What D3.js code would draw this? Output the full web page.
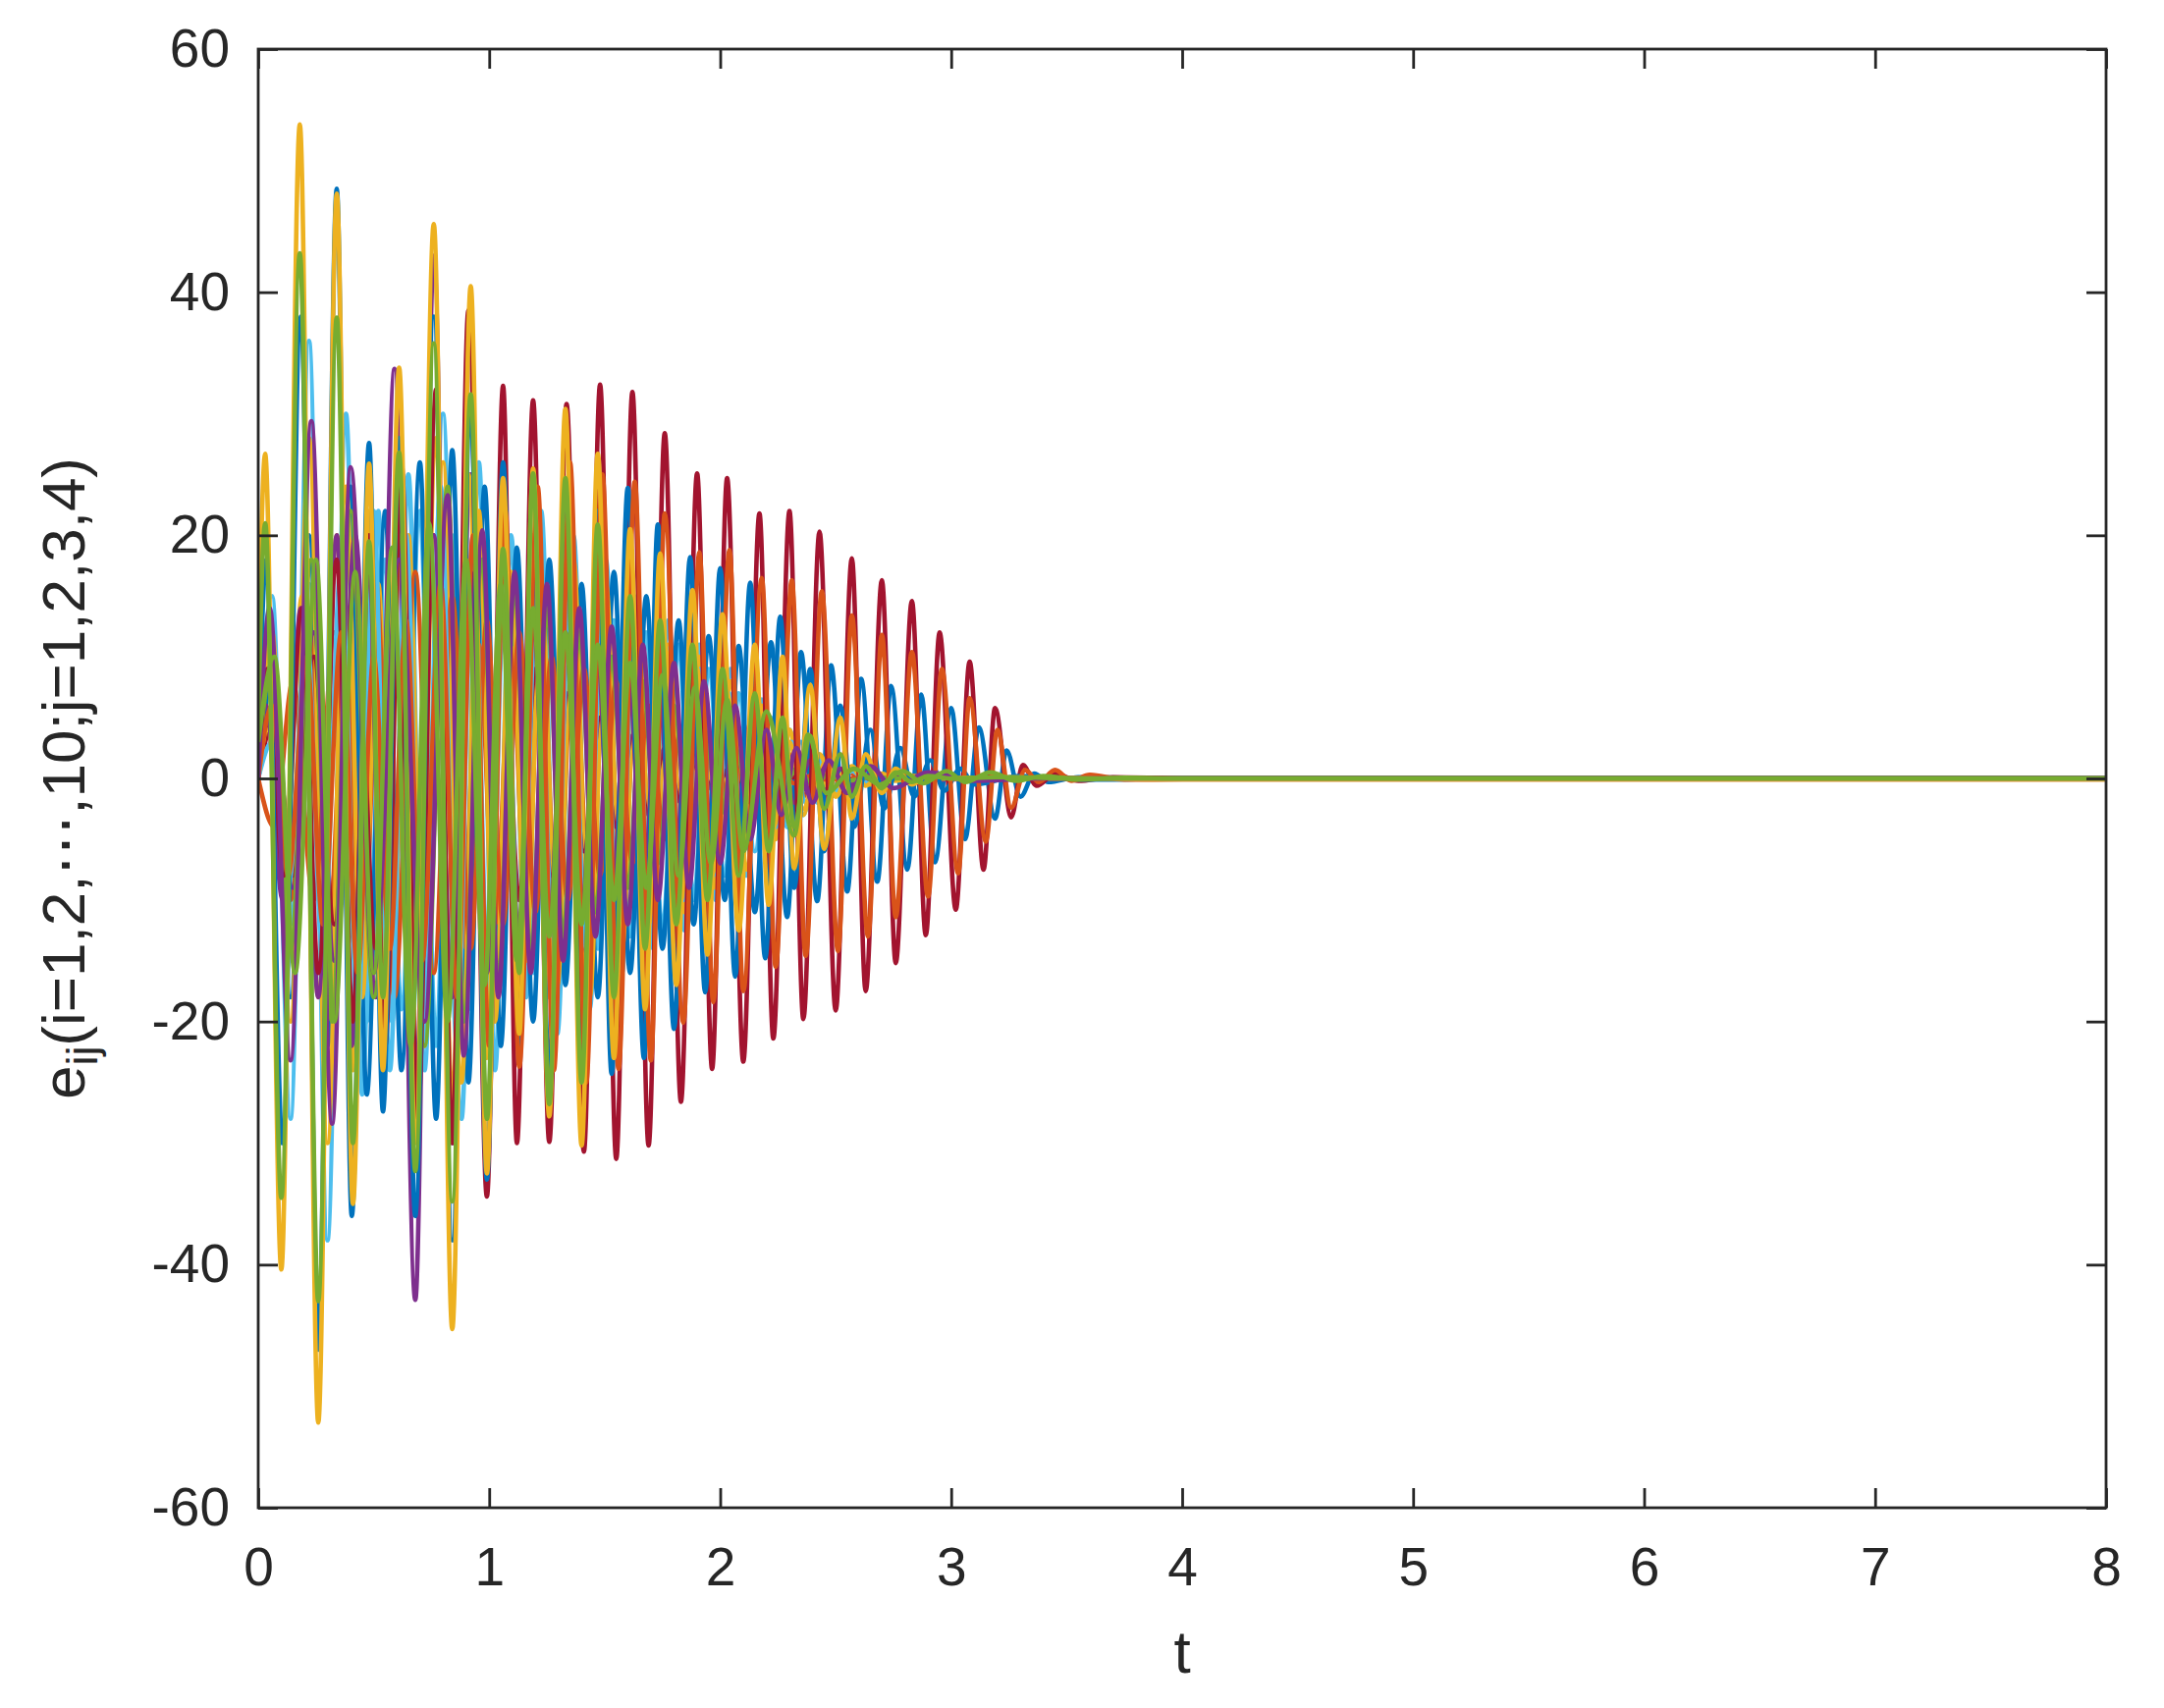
<!DOCTYPE html>
<html><head><meta charset="utf-8">
<script src="https://cdn.jsdelivr.net/npm/d3@7"></script>
<style>
body{margin:0;background:#fff}
svg{display:block}
text{font-family:"Liberation Sans",Arial,Helvetica,sans-serif;fill:#262626}
</style>
</head><body>
<svg id="chart" width="2204" height="1740"></svg>
<script>
// ---------- tick labels ----------
const xTicks = [0, 1, 2, 3, 4, 5, 6, 7, 8];
const yTicks = [-60, -40, -20, 0, 20, 40, 60];

// ---------- extremum times (s) and values ----------
const tA = [0, 0.03, 0.10, 0.18, 0.26, 0.34, 0.41, 0.48, 0.54, 0.61, 0.68, 0.76, 0.84, 0.92, 0.99, 1.06, 1.13, 1.19, 1.26, 1.33, 1.40, 1.47, 1.54, 1.61, 1.675, 1.74, 1.81, 1.88, 1.945, 2.01, 2.08, 2.15, 2.21, 2.27, 2.32, 2.39, 2.45, 2.52, 2.57, 2.63, 2.70, 2.76, 2.83, 2.90, 3.00, 3.20, 3.60, 4.00, 8.00];
const yellow1 = [8, 26.7, -40.4, 53.8, -53.0, 48.1, -35.0, 25.9, -24.0, 33.8, -30.0, 45.6, -45.3, 40.5, -32.5, 24.7, -21.0, 25.5, -27.8, 30.4, -30.2, 26.7, -23.0, 20.5, -19.0, 18.5, -17.0, 15.5, -14.5, 13.5, -12.5, 11.0, -10.4, 10.0, -7.4, 7.7, -5.8, 5.0, -3.3, 2.0, -1.2, 0.8, -0.5, 0.3, 0.0, 0.1, 0.0, -0.08, -0.08];
const green1 = [5, 21.0, -34.5, 43.2, -43.0, 37.9, -30.0, 19.5, -18.0, 26.8, -32.3, 35.8, -34.8, 31.6, -28.0, 18.9, -16.0, 25.1, -26.8, 24.7, -25.0, 20.9, -18.0, 15.0, -14.0, 13.0, -12.0, 11.0, -10.0, 9.0, -8.0, 7.0, -6.0, 5.0, -4.0, 3.5, -2.5, 2.0, -1.5, 1.0, -0.8, 0.5, -0.3, 0.2, 0.0, 0.1, 0.0, 0.0, 0.0];

const tA2 = [0, 0.06, 0.14, 0.22, 0.30, 0.38, 0.45, 0.52, 0.58, 0.65, 0.72, 0.80, 0.88, 0.955, 1.025, 1.095, 1.16, 1.225, 1.295, 1.365, 1.435, 1.505, 1.575, 1.64, 1.71, 1.775, 1.845, 1.91, 1.98, 2.045, 2.115, 2.18, 2.24, 2.30, 2.36, 2.42, 2.48, 2.55, 2.65, 2.80, 3.00, 3.50, 8.00];
const lightblue1 = [4, 15, -28, 36, -38, 30, -26, 22, -20, 25, -24, 30, -28, 26, -24, 20, -18, 22, -21, 20, -19, 18, -16, 15, -14, 13, -12.5, 11, -10, 9, -8, 6.5, -5, 4, -3, 2, -1.2, 0.8, -0.4, 0.2, 0, 0, 0];
const yellow2 = [2, 12, -20, 28, -30, 24, -18, 16, -15, 20, -22, 26, -25, 22, -20, 17, -15, 16, -17, 18, -18, 16, -14, 13, -12, 11, -11, 10, -9, 8, -7.5, 6, -5, 4, -3, 2, -1.5, 1, -0.5, 0.2, 0, 0, 0];
const orange2 = [0, 5, -10, 12, -14, 10, -16.3, 9.9, -12, 10.8, -13, 12, -14, 11, -12, 10.8, -11, 12, -12, 11, -10, 10, -9, 8, -8, 7, -6, 5.5, -5, 4.5, -4, 3, -2.5, 2, -1.5, 1, -0.8, 0.5, -0.3, 0.2, 0, 0, 0];

const tP = [0, 0.05, 0.14, 0.23, 0.32, 0.40, 0.50, 0.61, 0.72, 0.82, 0.89, 0.97, 1.04, 1.11, 1.18, 1.25, 1.32, 1.39, 1.46, 1.53, 1.60, 1.665, 1.73, 1.80, 1.865, 1.93, 2.00, 2.065, 2.13, 2.20, 2.265, 2.33, 2.40, 2.47, 2.55, 2.65, 2.75, 2.90, 3.10, 3.40, 8.00];
const purple2 = [0, 14, -23.2, 29.4, -28.4, 25.6, -16, 18, -20, 23.3, -22.8, 20.4, -18, 17, -16, 16, -15, 14, -13, 12.5, -12, 11, -10, 9.5, -9, 8, -7, 6, -5, 4, -3, 2.5, -2, 1.5, -1.2, 1, -0.8, 0.5, -0.2, 0, 0];
const green3 = [2, 8, -14, 18, -20, 22, -18, 20, -22, 24, -20, 18, -17, 16, -15, 14, -13, 12, -11, 10, -9, 8, -7, 6, -5, 4, -3, 2.5, -2, 1.5, -1, 0.8, -0.5, 0.3, -0.2, 0.1, 0, 0, 0, 0, 0];

const tP1 = [0, 0.07, 0.15, 0.24, 0.33, 0.42, 0.51, 0.59, 0.68, 0.76, 0.84, 0.92, 0.99, 1.06, 1.13, 1.20, 1.27, 1.34, 1.41, 1.48, 1.55, 1.62, 1.69, 1.76, 1.83, 1.90, 1.97, 2.04, 2.11, 2.18, 2.25, 2.32, 2.39, 2.46, 2.55, 2.70, 2.90, 3.20, 8.00];
const purple1 = [3, 6, -9, 12, -15, 20, -18, 33.7, -42.9, 43.0, -30, 25, -22, 20, -19, 18, -17, 16, -15, 14, -13, 12, -11, 10, -9, 8, -7, 6, -5, 4, -3, 2, -1.5, 1, -0.6, 0.3, -0.1, 0, 0];
const red2 = [0, 5, -8, 10, -12, 16.6, -14, 12, -15, 20, -18, 16, -14, 12, -10, 9, -8, 7, -6, 5, -4, 3.5, -3, 2.5, -2, 1.5, -1, 0.8, -0.5, 0.3, -0.2, 0.1, 0, 0, 0, 0, 0, 0, 0];
const orange3 = [0, -4, 8, -10, 12, -14, 16, -18, 17, -16, 15, -14, 13, -12, 12, -11, 10, -10, 9, -8, 8, -7, 6, -5, 4, -3, 2.5, -2, 1.5, -1, 0.6, -0.4, 0.2, -0.1, 0, 0, 0, 0, 0];

const tR = [0, 0.04, 0.11, 0.19, 0.26, 0.34, 0.41, 0.48, 0.55, 0.62, 0.69, 0.77, 0.84, 0.91, 0.99, 1.06, 1.12, 1.19, 1.26, 1.335, 1.41, 1.48, 1.55, 1.62, 1.69, 1.76, 1.83, 1.90, 1.965, 2.03, 2.10, 2.17, 2.23, 2.30, 2.36, 2.43, 2.50, 2.57, 2.63, 2.70, 2.76, 2.83, 2.89, 2.95, 3.02, 3.08, 3.14, 3.19, 3.26, 3.31, 3.37, 3.45, 3.55, 3.70, 4.00, 8.00];
const red1 = [0, 9, -8, 14, -16, 18, -20, 20, -22, 26, -28, 32, -30, 38.5, -34.4, 32.3, -30.0, 31.1, -29.9, 30.8, -30.7, 32.4, -31.3, 31.8, -30.2, 28.4, -26.6, 25.1, -23.9, 24.7, -23.3, 21.8, -21.4, 22.0, -19.8, 20.3, -19.1, 18.1, -17.5, 16.3, -15.2, 14.6, -12.9, 12.0, -10.8, 9.6, -7.5, 5.8, -3.2, 1.1, -0.6, 0.4, -0.2, 0.1, 0, 0];
const yellow3 = [0, 4, -10, 15, -18, 20, -24, 22, -20, 24, -26, 28, -27, 25, -23, 22, -20, 19, -18, 17, -16, 15, -14, 13, -12, 11, -10, 9, -8, 7, -6, 5, -4, 3, -2.5, 2, -1.5, 1, -0.6, 0.4, -0.2, 0.1, 0, 0, 0, 0, 0, 0, 0, 0, 0, 0, 0, 0, 0, 0];

const tO = [0, 0.06, 0.13, 0.21, 0.28, 0.36, 0.43, 0.50, 0.57, 0.64, 0.71, 0.79, 0.86, 0.93, 1.00, 1.07, 1.13, 1.21, 1.28, 1.35, 1.42, 1.49, 1.56, 1.63, 1.70, 1.76, 1.84, 1.91, 1.97, 2.04, 2.10, 2.18, 2.24, 2.31, 2.37, 2.44, 2.51, 2.57, 2.64, 2.70, 2.76, 2.83, 2.90, 2.96, 3.03, 3.08, 3.15, 3.20, 3.26, 3.32, 3.38, 3.45, 3.52, 3.60, 3.75, 4.00, 8.00];
const orange1 = [0, 6, -8, 10, -12, 12, -16, 10, -14, 13, -15, 16, -18, 20, -22, 22, -23.7, 24, -24, 26, -25, 25, -23.9, 24.4, -23.2, 21.8, -20.1, 18.6, -18.4, 18.8, -17.5, 16.5, -15.5, 16.3, -14.6, 15.4, -14.2, 13.4, -13.0, 11.8, -11.4, 10.4, -9.7, 9.0, -7.8, 6.6, -5.2, 4.0, -2.4, 0.7, -0.3, 0.7, -0.2, 0.3, -0.1, -0.08, -0.08];
const lightblue3 = [0, 3, -9, 12, -15, 18, -20, 22, -24, 20, -22, 24, -22, 20, -19, 18, -17, 16, -16, 15, -14, 13, -13, 12, -12, 11, -10, 9, -8, 7, -6, 5, -4, 3, -2, 1.5, -1, 0.6, -0.4, 0.2, -0.1, 0, 0, 0, 0, 0, 0, 0, 0, 0, 0, 0, 0, 0, 0, 0, 0];

const tB1 = [0, 0.035, 0.105, 0.185, 0.26, 0.34, 0.405, 0.48, 0.54, 0.61, 0.68, 0.76, 0.84, 0.92, 0.99, 1.06, 1.13, 1.19, 1.26, 1.33, 1.40, 1.47, 1.53, 1.60, 1.67, 1.73, 1.80, 1.87, 1.935, 2.00, 2.065, 2.13, 2.195, 2.26, 2.32, 2.39, 2.45, 2.52, 2.58, 2.65, 2.71, 2.78, 2.84, 2.91, 2.97, 3.04, 3.10, 3.30, 3.60, 4.00, 8.00];
const blue1 = [2, 18, -30, 38, -47, 48.5, -36, 27.6, -27.4, 28, -36, 38, -38, 30, -33, 26, -22, 20, -24, 24, -25, 22, -24.3, 23.9, -23, 20.9, -20.6, 18.2, -17.6, 17.3, -16.3, 16.1, -14.8, 13.3, -9, 9, -6, 6, -4, 4, -2.5, 2.5, -1.5, 1.5, -1, 0.8, -0.5, 0.2, -0.1, 0, 0];
const purple3 = [1, 6, -10, 14, -18, 20, -22, 18, -20, 22, -24, 20, -18, 17, -16, 15, -14, 13, -12, 12, -11, 10, -10, 9, -8.5, 8, -7.5, 7, -6.5, 6, -5, 4.5, -4, 3, -2, 1.5, -1, 0.8, -0.5, 0.3, -0.2, 0.1, 0, 0, 0, 0, 0, 0, 0, 0, 0];

const tB2 = [0, 0.06, 0.14, 0.22, 0.30, 0.40, 0.47, 0.55, 0.62, 0.70, 0.77, 0.84, 0.91, 0.98, 1.05, 1.12, 1.19, 1.26, 1.33, 1.40, 1.47, 1.54, 1.61, 1.68, 1.75, 1.82, 1.885, 1.95, 2.02, 2.08, 2.15, 2.22, 2.29, 2.35, 2.42, 2.48, 2.55, 2.61, 2.68, 2.74, 2.81, 2.87, 2.93, 3.00, 3.06, 3.12, 3.19, 3.24, 3.30, 3.36, 3.42, 3.55, 4.00, 8.00];
const blue2 = [0, 8, -18, 20, -22, 24, -26, 22, -24, 26, -28, 27, -25, 24, -22, 19, -20, 18, -17, 16, -18, 17, -16, 15, -14, 13, -12, 11.7, -10, 10.9, -11, 11.2, -11.4, 10.4, -10.1, 9.3, -9.3, 8.2, -8.5, 7.6, -7.5, 6.9, -6.9, 5.8, -5.0, 4.2, -3.3, 2.3, -1.5, 0.4, -0.3, 0.1, 0, 0];
const lightblue2 = [0, 6, -12, 16, -18, 20, -20, 18, -19, 22, -22, 20, -19, 18, -17, 16, -16, 15, -15, 14, -14, 13, -13, 12, -12.5, 11, -10, 9, -8, 7, -6, 5, -4, 3, -2, 1.5, -1, 0.6, -0.4, 0.3, -0.2, 0.1, 0, 0, 0, 0, 0, 0, 0, 0, 0, 0, 0, 0];

const tG2 = [0, 0.07, 0.16, 0.25, 0.33, 0.42, 0.50, 0.58, 0.66, 0.74, 0.82, 0.90, 0.98, 1.05, 1.12, 1.19, 1.26, 1.33, 1.40, 1.47, 1.54, 1.61, 1.68, 1.75, 1.82, 1.89, 1.96, 2.03, 2.10, 2.20, 2.32, 2.38, 2.46, 2.58, 2.69, 2.79, 2.88, 2.98, 3.06, 3.17, 3.28, 3.40, 3.55, 3.75, 4.00, 8.00];
const green2 = [3, 10, -16, 18, -20, 17, -16, 19, -22, 21, -20, 18, -17, 16, -15, 14, -13, 12, -12, 11, -10, 9.5, -9, 8.5, -8, 7.5, -7, 6.5, -6, 5.5, -4.7, 3.6, -1.2, 0.8, -0.5, 0.6, -0.4, 0.6, -0.3, 0.5, -0.2, 0.2, -0.1, 0.05, 0, 0];

// ---------- series (draw order, bottom to top) ----------
const palette = {blue:"#0072BD", orange:"#D95319", yellow:"#EDB120", purple:"#7E2F8E", green:"#77AC30", lightblue:"#4DBEEE", red:"#A2142F"};
const seriesList = [
  {t:tA2, v:lightblue1, c:"lightblue"},
  {t:tB2, v:lightblue2, c:"lightblue"},
  {t:tB2, v:blue2, c:"blue"},
  {t:tA2, v:orange2, c:"orange"},
  {t:tA2, v:yellow2, c:"yellow"},
  {t:tP1, v:purple1, c:"purple"},
  {t:tP1, v:red2, c:"red"},
  {t:tP1, v:orange3, c:"orange"},
  {t:tO, v:lightblue3, c:"lightblue"},
  {t:tR, v:yellow3, c:"yellow"},
  {t:tB1, v:purple3, c:"purple"},
  {t:tP, v:green3, c:"green"},
  {t:tR, v:red1, c:"red"},
  {t:tB1, v:blue1, c:"blue"},
  {t:tO, v:orange1, c:"orange"},
  {t:tA, v:yellow1, c:"yellow"},
  {t:tP, v:purple2, c:"purple"},
  {t:tG2, v:green2, c:"green"},
  {t:tA, v:green1, c:"green"}
];

// ---------- layout ----------
const L = 263, R = 2145, T = 50, B = 1536;
const ink = "#262626";
const tickLen = 20, axisW = 2.8, lineW = 4.6;
const tickFont = 55, labelFont = 62;

const svg = d3.select("#chart");
const x = d3.scaleLinear().domain([0, 8]).range([L, R]);
const y = d3.scaleLinear().domain([-60, 60]).range([B, T]);

svg.append("defs").append("clipPath").attr("id", "clip")
  .append("rect").attr("x", L).attr("y", T).attr("width", R - L).attr("height", B - T);

const line = d3.line().x(d => x(d[0])).y(d => y(d[1])).curve(d3.curveMonotoneX);
const gLines = svg.append("g").attr("clip-path", "url(#clip)");
seriesList.forEach(s => {
  gLines.append("path")
    .datum(d3.zip(s.t, s.v))
    .attr("d", line)
    .attr("fill", "none")
    .attr("stroke", palette[s.c])
    .attr("stroke-width", lineW)
    .attr("stroke-linejoin", "round");
});

// ---------- axes (box, inward ticks on all sides) ----------
function styleAxis(g) {
  g.select(".domain").remove();
  g.selectAll(".tick line").attr("stroke", ink).attr("stroke-width", axisW);
  g.selectAll(".tick text").attr("fill", ink).style("font-size", tickFont + "px")
    .style("font-family", '"Liberation Sans", Arial, Helvetica, sans-serif');
}
const fmt = d => String(d);
svg.append("g").attr("transform", `translate(0,${B})`)
  .call(d3.axisBottom(x).tickValues(xTicks).tickFormat(fmt).tickSizeInner(-tickLen).tickSizeOuter(0).tickPadding(40))
  .call(styleAxis);
svg.append("g").attr("transform", `translate(0,${T})`)
  .call(d3.axisTop(x).tickValues(xTicks).tickFormat("").tickSizeInner(-tickLen).tickSizeOuter(0))
  .call(styleAxis);
svg.append("g").attr("transform", `translate(${L},0)`)
  .call(d3.axisLeft(y).tickValues(yTicks).tickFormat(fmt).tickSizeInner(-tickLen).tickSizeOuter(0).tickPadding(29))
  .call(styleAxis);
svg.append("g").attr("transform", `translate(${R},0)`)
  .call(d3.axisRight(y).tickValues(yTicks).tickFormat("").tickSizeInner(-tickLen).tickSizeOuter(0))
  .call(styleAxis);

svg.append("rect").attr("x", L).attr("y", T).attr("width", R - L).attr("height", B - T)
  .attr("fill", "none").attr("stroke", ink).attr("stroke-width", axisW);

// ---------- axis labels ----------
svg.append("text").attr("x", (L + R) / 2).attr("y", 1704)
  .attr("text-anchor", "middle").style("font-size", labelFont + "px").text("t");

const yl = svg.append("text")
  .attr("transform", `translate(86,${(T + B) / 2}) rotate(-90)`)
  .attr("text-anchor", "middle").style("font-size", labelFont + "px");
yl.append("tspan").text("e");
yl.append("tspan").attr("dy", "0.28em").style("font-size", "0.72em").text("ij");
yl.append("tspan").attr("dy", "-0.2em").text("(i=1,2,\u22EF,10;j=1,2,3,4)");
</script>
</body></html>
